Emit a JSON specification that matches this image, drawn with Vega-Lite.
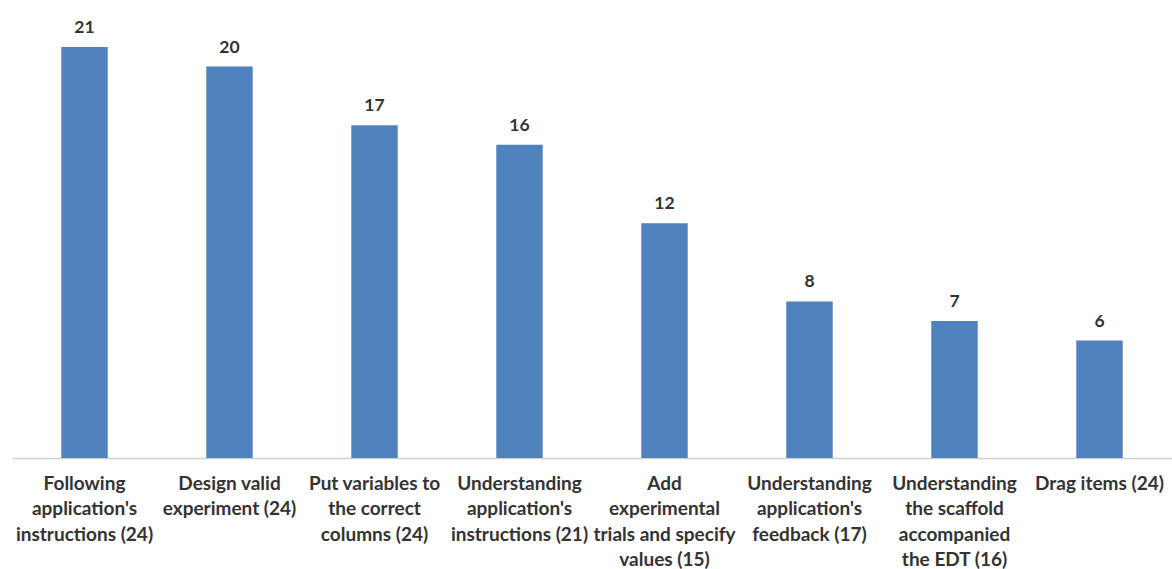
{
  "$schema": "https://vega.github.io/schema/vega-lite/v6.json",
  "autosize": "none",
  "width": 1160,
  "height": 458,
  "padding": {"left": 12, "top": 0, "right": 0, "bottom": 111},
  "background": "white",
  "config": {"view": {"stroke": null}, "font": "Lato"},
  "data": {
    "values": [
      {"task": "Following\napplication's\ninstructions (24)", "count": 21},
      {"task": "Design valid\nexperiment (24)", "count": 20},
      {"task": "Put variables to\nthe correct\ncolumns (24)", "count": 17},
      {"task": "Understanding\napplication's\ninstructions (21)", "count": 16},
      {"task": "Add\nexperimental\ntrials and specify\nvalues (15)", "count": 12},
      {"task": "Understanding\napplication's\nfeedback (17)", "count": 8},
      {"task": "Understanding\nthe scaffold\naccompanied\nthe EDT (16)", "count": 7},
      {"task": "Drag items (24)", "count": 6}
    ]
  },
  "encoding": {
    "x": {
      "field": "task",
      "type": "nominal",
      "sort": null,
      "scale": {"paddingInner": 0.68, "paddingOuter": 0.34},
      "axis": {
        "title": null,
        "labelAngle": 0,
        "ticks": false,
        "labelPadding": 16,
        "labelFontSize": 19,
        "labelFontWeight": "bold",
        "labelColor": "#333333",
        "labelLineHeight": 25.5,
        "labelLimit": 0,
        "labelOverlap": false,
        "labelExpr": "split(datum.label, '\\n')",
        "domainColor": "#d0d0d0",
        "domainWidth": 1.5
      }
    },
    "y": {
      "field": "count",
      "type": "quantitative",
      "scale": {"domain": [0, 23.4], "nice": false},
      "axis": null
    }
  },
  "layer": [
    {"mark": {"type": "bar", "color": "#4f81bd"}},
    {
      "mark": {
        "type": "text",
        "baseline": "bottom",
        "dy": -10,
        "fontSize": 17.5,
        "fontWeight": "bold",
        "color": "#333333"
      },
      "encoding": {"text": {"field": "count", "type": "quantitative"}}
    }
  ]
}
